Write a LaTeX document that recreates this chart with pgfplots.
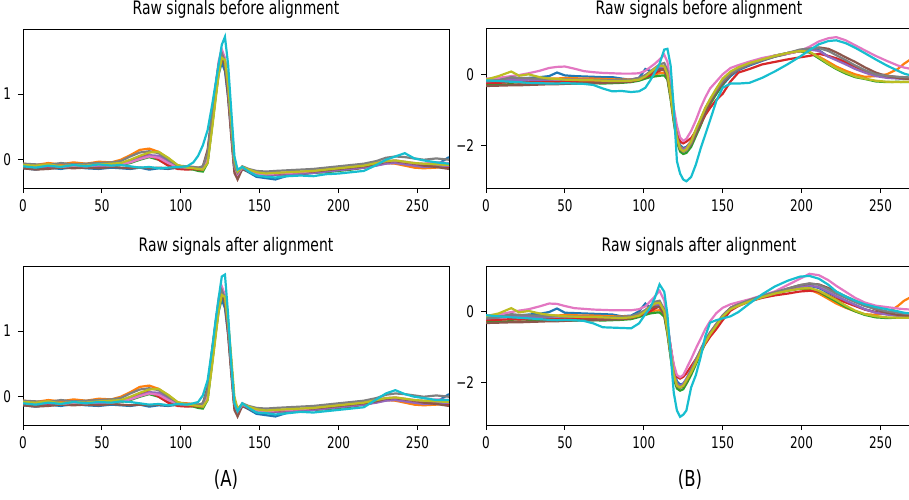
\documentclass[border=0pt]{standalone}
\usepackage{fontspec}
\setmainfont{DejaVu Sans}[FakeStretch=0.75]
\usepackage{pgfplots}
\usepackage{pgfplotstable}
\pgfplotsset{compat=1.18}

\definecolor{c0}{HTML}{1F77B4}
\definecolor{c1}{HTML}{FF7F0E}
\definecolor{c2}{HTML}{2CA02C}
\definecolor{c3}{HTML}{D62728}
\definecolor{c4}{HTML}{9467BD}
\definecolor{c5}{HTML}{8C564B}
\definecolor{c6}{HTML}{E377C2}
\definecolor{c7}{HTML}{7F7F7F}
\definecolor{c8}{HTML}{BCBD22}
\definecolor{c9}{HTML}{17BECF}

% panel A: c9a is the cyan beat after alignment
\pgfplotstableread{
x c0 c1 c2 c3 c4 c5 c6 c7 c8 c9 c9a
0 -0.13 -0.06 -0.10 -0.12 -0.09 -0.13 -0.08 -0.06 -0.08 -0.10 -0.10
8 -0.15 -0.08 -0.11 -0.10 -0.11 -0.15 -0.10 -0.07 -0.09 -0.12 -0.12
16 -0.12 -0.05 -0.09 -0.13 -0.10 -0.14 -0.08 -0.08 -0.07 -0.09 -0.09
24 -0.14 -0.07 -0.12 -0.11 -0.12 -0.12 -0.11 -0.05 -0.10 -0.11 -0.11
32 -0.11 -0.04 -0.10 -0.12 -0.09 -0.13 -0.09 -0.07 -0.08 -0.08 -0.08
40 -0.13 -0.06 -0.11 -0.10 -0.10 -0.12 -0.10 -0.06 -0.09 -0.10 -0.10
48 -0.14 -0.03 -0.09 -0.11 -0.11 -0.13 -0.08 -0.05 -0.07 -0.07 -0.08
56 -0.12 -0.04 -0.10 -0.09 -0.09 -0.11 -0.09 -0.04 -0.06 -0.09 -0.09
62 -0.13 0.00 -0.08 -0.07 -0.07 -0.12 -0.07 -0.02 -0.05 -0.08 -0.07
68 -0.14 0.07 -0.05 -0.02 -0.03 -0.13 -0.04 0.05 0.00 -0.10 -0.08
74 -0.12 0.15 0.00 0.05 0.02 -0.12 0.01 0.11 0.06 -0.12 -0.10
80 -0.15 0.17 0.04 0.08 0.07 -0.13 0.05 0.13 0.11 -0.11 -0.12
86 -0.13 0.12 0.00 0.00 0.06 -0.12 0.03 0.10 0.12 -0.13 -0.11
92 -0.14 0.02 -0.08 -0.09 -0.02 -0.13 -0.05 0.00 0.03 -0.12 -0.13
98 -0.12 -0.09 -0.12 -0.14 -0.10 -0.12 -0.11 -0.09 -0.08 -0.11 -0.11
104 -0.13 -0.10 -0.14 -0.15 -0.12 -0.13 -0.12 -0.11 -0.12 -0.10 -0.12
108 -0.12 -0.11 -0.15 -0.14 -0.12 -0.12 -0.12 -0.11 -0.13 -0.04 -0.10
111 -0.13 -0.12 -0.17 -0.15 -0.13 -0.13 -0.13 -0.12 -0.14 0.06 -0.08
114 -0.14 -0.13 -0.18 -0.15 -0.14 -0.10 -0.14 -0.10 -0.15 0.22 0.02
117 -0.02 0.10 -0.05 0.05 0.05 0.15 0.00 0.10 -0.05 0.45 0.25
120 0.55 0.70 0.55 0.70 0.65 0.75 0.65 0.70 0.50 0.85 0.75
122 0.95 1.05 0.95 1.10 1.05 1.10 1.10 1.10 0.90 1.15 1.15
124 1.30 1.38 1.35 1.45 1.40 1.42 1.50 1.45 1.30 1.45 1.50
126 1.48 1.55 1.55 1.62 1.60 1.58 1.68 1.62 1.55 1.75 1.83
128 1.35 1.45 1.45 1.50 1.50 1.42 1.55 1.50 1.52 1.87 1.86
130 0.95 1.05 1.05 1.05 1.10 0.95 1.10 1.10 1.15 1.45 1.25
132 0.40 0.45 0.50 0.45 0.50 0.35 0.50 0.50 0.60 0.75 0.50
134 -0.15 -0.12 -0.10 -0.15 -0.10 -0.20 -0.10 -0.10 0.00 0.05 -0.10
136 -0.25 -0.22 -0.24 -0.26 -0.22 -0.30 -0.22 -0.20 -0.18 -0.15 -0.22
139 -0.14 -0.11 -0.13 -0.13 -0.12 -0.14 -0.12 -0.10 -0.11 -0.11 -0.10
143 -0.19 -0.15 -0.17 -0.18 -0.17 -0.18 -0.16 -0.14 -0.15 -0.18 -0.17
148 -0.26 -0.20 -0.22 -0.23 -0.22 -0.22 -0.21 -0.17 -0.19 -0.24 -0.24
154 -0.28 -0.22 -0.23 -0.24 -0.24 -0.21 -0.22 -0.18 -0.21 -0.26 -0.25
160 -0.30 -0.21 -0.22 -0.23 -0.23 -0.22 -0.21 -0.17 -0.20 -0.27 -0.27
168 -0.24 -0.22 -0.23 -0.21 -0.22 -0.20 -0.20 -0.16 -0.19 -0.25 -0.25
176 -0.22 -0.20 -0.21 -0.22 -0.21 -0.19 -0.19 -0.15 -0.18 -0.24 -0.23
184 -0.20 -0.19 -0.20 -0.19 -0.20 -0.18 -0.17 -0.14 -0.17 -0.25 -0.24
192 -0.17 -0.18 -0.19 -0.17 -0.18 -0.16 -0.14 -0.12 -0.15 -0.22 -0.22
200 -0.15 -0.15 -0.17 -0.15 -0.16 -0.14 -0.12 -0.10 -0.13 -0.21 -0.20
208 -0.12 -0.13 -0.15 -0.14 -0.14 -0.12 -0.10 -0.08 -0.11 -0.19 -0.18
216 -0.10 -0.11 -0.12 -0.12 -0.12 -0.10 -0.08 -0.06 -0.09 -0.17 -0.16
224 -0.05 -0.08 -0.08 -0.08 -0.09 -0.07 -0.04 -0.02 -0.05 -0.08 -0.04
230 -0.03 -0.05 -0.04 -0.05 -0.06 -0.03 -0.02 0.03 -0.02 0.00 0.05
236 -0.04 -0.06 -0.03 -0.04 -0.05 -0.02 -0.01 0.05 -0.01 0.05 0.10
242 -0.06 -0.09 -0.05 -0.06 -0.07 -0.04 -0.03 0.04 -0.03 0.10 0.04
248 -0.09 -0.12 -0.07 -0.08 -0.09 -0.06 -0.05 0.02 -0.05 0.02 0.00
254 -0.11 -0.13 -0.09 -0.09 -0.11 -0.09 -0.06 0.00 -0.06 -0.01 -0.02
262 -0.08 -0.12 -0.10 -0.10 -0.10 -0.11 -0.04 0.02 -0.07 -0.04 -0.05
270 0.04 -0.10 -0.09 -0.12 -0.09 -0.14 -0.05 0.00 -0.08 -0.06 -0.05
}\tA

% panel B, before alignment
\pgfplotstableread{
x c0 c1 c2 c3 c4 c5 c6 c7 c8 c9
0 -0.15 -0.18 -0.30 -0.25 -0.20 -0.33 -0.12 -0.20 -0.15 -0.17
8 -0.14 -0.17 -0.29 -0.24 -0.18 -0.32 -0.10 -0.17 -0.05 -0.19
16 -0.10 -0.15 -0.28 -0.22 -0.15 -0.31 -0.05 -0.08 0.08 -0.21
21 -0.12 -0.16 -0.29 -0.23 -0.16 -0.31 -0.02 -0.10 -0.04 -0.22
27 -0.10 -0.14 -0.28 -0.22 -0.15 -0.30 0.03 -0.11 0.00 -0.24
34 -0.08 -0.13 -0.27 -0.21 -0.16 -0.29 0.10 -0.13 -0.08 -0.25
40 -0.05 -0.12 -0.27 -0.20 -0.15 -0.28 0.18 -0.14 -0.12 -0.26
45 0.05 -0.12 -0.26 -0.21 -0.15 -0.28 0.21 -0.14 -0.13 -0.26
50 -0.03 -0.10 -0.27 -0.20 -0.14 -0.27 0.22 -0.15 -0.15 -0.25
56 -0.05 -0.11 -0.26 -0.21 -0.15 -0.26 0.16 -0.15 -0.16 -0.26
62 -0.06 -0.12 -0.25 -0.20 -0.15 -0.25 0.09 -0.16 -0.17 -0.27
68 -0.07 -0.12 -0.25 -0.22 -0.16 -0.25 0.06 -0.16 -0.17 -0.30
74 -0.08 -0.13 -0.26 -0.20 -0.16 -0.24 0.04 -0.17 -0.18 -0.40
80 -0.08 -0.14 -0.25 -0.21 -0.17 -0.23 0.03 -0.17 -0.19 -0.48
86 -0.12 -0.15 -0.24 -0.22 -0.17 -0.22 0.02 -0.17 -0.19 -0.47
92 -0.16 -0.14 -0.22 -0.20 -0.15 -0.20 0.02 -0.15 -0.18 -0.50
97 -0.10 -0.12 -0.18 -0.15 -0.10 -0.14 0.03 -0.10 -0.15 -0.48
101 0.15 -0.08 -0.12 -0.08 -0.03 -0.05 0.10 -0.02 -0.06 -0.38
104 0.10 -0.03 -0.08 -0.02 0.05 0.03 0.20 0.08 0.05 -0.18
107 0.08 0.00 -0.06 0.03 0.12 0.10 0.30 0.18 0.16 0.05
110 0.15 0.03 -0.04 0.10 0.20 0.14 0.42 0.28 0.25 0.30
113 0.15 0.05 -0.03 0.15 0.22 0.12 0.55 0.32 0.22 0.70
115 -0.05 -0.10 -0.15 0.00 0.00 -0.10 0.35 0.10 0.00 0.72
117 -0.50 -0.60 -0.70 -0.45 -0.55 -0.65 -0.30 -0.50 -0.60 0.25
119 -1.10 -1.20 -1.35 -1.05 -1.20 -1.30 -0.95 -1.15 -1.25 -0.95
121 -1.70 -1.80 -1.90 -1.60 -1.80 -1.85 -1.45 -1.75 -1.80 -2.45
123 -2.00 -2.05 -2.18 -1.90 -2.08 -2.12 -1.78 -2.08 -2.10 -2.80
125 -2.08 -2.12 -2.25 -1.95 -2.12 -2.18 -1.88 -2.18 -2.17 -2.97
127 -2.05 -2.08 -2.22 -1.90 -2.08 -2.15 -1.82 -2.15 -2.12 -3.02
130 -1.90 -1.90 -2.05 -1.80 -1.90 -1.98 -1.60 -1.95 -1.90 -2.90
133 -1.65 -1.60 -1.75 -1.60 -1.60 -1.70 -1.30 -1.60 -1.55 -2.55
136 -1.35 -1.30 -1.45 -1.40 -1.30 -1.40 -0.95 -1.28 -1.25 -2.10
139 -1.05 -1.00 -1.12 -1.15 -1.00 -1.10 -0.65 -0.95 -0.95 -1.70
142 -0.80 -0.75 -0.85 -0.95 -0.75 -0.80 -0.40 -0.72 -0.70 -1.30
146 -0.55 -0.50 -0.55 -0.72 -0.48 -0.50 -0.20 -0.45 -0.40 -0.75
150 -0.30 -0.25 -0.28 -0.55 -0.25 -0.25 0.00 -0.20 -0.12 -0.38
155 -0.05 0.00 0.00 -0.20 0.00 0.00 0.18 0.02 0.08 -0.26
160 0.12 0.15 0.18 0.05 0.15 0.15 0.26 0.15 0.20 -0.26
167 0.25 0.30 0.30 0.15 0.28 0.28 0.36 0.28 0.32 -0.24
175 0.38 0.42 0.42 0.28 0.40 0.40 0.46 0.40 0.42 -0.10
183 0.50 0.52 0.53 0.35 0.52 0.50 0.53 0.50 0.52 0.08
191 0.58 0.60 0.60 0.42 0.60 0.58 0.58 0.60 0.60 0.28
199 0.68 0.65 0.65 0.48 0.68 0.66 0.66 0.70 0.66 0.50
205 0.72 0.62 0.62 0.52 0.70 0.72 0.78 0.73 0.64 0.68
211 0.68 0.50 0.45 0.58 0.66 0.76 0.93 0.74 0.48 0.85
217 0.50 0.35 0.28 0.52 0.50 0.72 1.02 0.66 0.30 0.94
222 0.45 0.22 0.15 0.45 0.40 0.62 1.05 0.54 0.17 0.96
228 0.32 0.10 0.02 0.35 0.28 0.48 0.96 0.40 0.05 0.88
234 0.22 0.00 -0.08 0.22 0.15 0.35 0.82 0.25 -0.06 0.75
240 0.10 -0.07 -0.13 0.08 0.05 0.20 0.68 0.12 -0.12 0.60
247 0.00 -0.05 -0.20 0.00 -0.05 0.05 0.52 0.00 -0.18 0.42
254 -0.06 0.00 -0.22 -0.05 -0.10 -0.05 0.38 -0.04 -0.21 0.25
261 -0.10 0.15 -0.21 -0.08 -0.12 -0.10 0.25 -0.07 -0.22 0.10
265 -0.12 0.30 -0.22 -0.10 -0.13 -0.12 0.19 -0.08 -0.21 0.02
270 -0.13 0.45 -0.22 -0.10 -0.14 -0.14 0.15 -0.09 -0.21 -0.04
}\tBb

% panel B, after alignment
\pgfplotstableread{
x c0 c1 c2 c3 c4 c5 c6 c7 c8 c9
0 -0.15 -0.18 -0.30 -0.25 -0.20 -0.33 -0.12 -0.20 -0.14 -0.11
8 -0.13 -0.17 -0.29 -0.24 -0.18 -0.32 -0.09 -0.17 -0.06 -0.14
16 -0.11 -0.15 -0.28 -0.22 -0.15 -0.31 -0.02 -0.08 0.09 -0.17
21 -0.12 -0.16 -0.29 -0.23 -0.16 -0.31 0.02 -0.10 -0.03 -0.18
27 -0.09 -0.14 -0.28 -0.22 -0.15 -0.30 0.06 -0.11 0.01 -0.20
34 -0.07 -0.13 -0.27 -0.21 -0.16 -0.29 0.14 -0.13 -0.06 -0.22
40 -0.02 -0.12 -0.27 -0.20 -0.15 -0.28 0.22 -0.14 -0.10 -0.24
45 0.08 -0.12 -0.26 -0.21 -0.15 -0.28 0.21 -0.14 -0.12 -0.25
50 -0.04 -0.10 -0.27 -0.20 -0.14 -0.27 0.15 -0.15 -0.14 -0.24
56 -0.05 -0.11 -0.26 -0.21 -0.15 -0.26 0.09 -0.15 -0.15 -0.25
62 -0.06 -0.12 -0.25 -0.20 -0.15 -0.25 0.07 -0.16 -0.16 -0.27
68 -0.07 -0.12 -0.25 -0.22 -0.16 -0.25 0.05 -0.16 -0.16 -0.34
74 -0.08 -0.13 -0.26 -0.20 -0.16 -0.24 0.04 -0.17 -0.17 -0.45
80 -0.09 -0.14 -0.25 -0.21 -0.17 -0.23 0.03 -0.17 -0.18 -0.46
86 -0.14 -0.15 -0.24 -0.22 -0.17 -0.22 0.03 -0.17 -0.19 -0.47
92 -0.12 -0.14 -0.22 -0.19 -0.14 -0.18 0.03 -0.14 -0.17 -0.48
97 0.00 -0.11 -0.16 -0.12 -0.07 -0.10 0.06 -0.06 -0.12 -0.34
101 0.22 -0.06 -0.10 -0.06 -0.02 0.00 0.14 0.04 0.00 -0.08
104 0.10 -0.02 -0.06 0.00 0.08 0.08 0.28 0.15 0.12 0.10
107 0.12 0.02 -0.04 0.08 0.18 0.13 0.42 0.27 0.22 0.38
110 0.16 0.03 -0.03 0.14 0.20 0.12 0.58 0.30 0.24 0.76
113 0.02 -0.10 -0.15 0.00 0.00 -0.10 0.30 0.05 0.00 0.55
115 -0.40 -0.55 -0.65 -0.40 -0.50 -0.60 -0.35 -0.50 -0.55 -0.10
117 -1.00 -1.15 -1.30 -1.00 -1.15 -1.25 -1.00 -1.15 -1.20 -1.20
119 -1.60 -1.75 -1.90 -1.55 -1.75 -1.85 -1.50 -1.78 -1.80 -2.30
121 -1.98 -2.05 -2.18 -1.85 -2.05 -2.12 -1.80 -2.08 -2.10 -2.80
123 -2.07 -2.12 -2.24 -1.90 -2.10 -2.16 -1.86 -2.15 -2.15 -2.98
125 -2.04 -2.08 -2.20 -1.85 -2.05 -2.12 -1.80 -2.10 -2.10 -2.92
127 -1.92 -1.95 -2.05 -1.75 -1.90 -1.98 -1.62 -1.95 -1.95 -2.80
130 -1.72 -1.70 -1.80 -1.55 -1.65 -1.72 -1.35 -1.65 -1.72 -2.15
133 -1.45 -1.40 -1.50 -1.35 -1.38 -1.42 -1.05 -1.38 -1.45 -1.80
136 -1.15 -1.10 -1.20 -1.12 -1.08 -1.12 -0.78 -1.10 -1.15 -1.30
139 -0.85 -0.82 -0.90 -0.92 -0.80 -0.85 -0.50 -0.82 -0.88 -0.70
142 -0.62 -0.60 -0.68 -0.72 -0.60 -0.62 -0.28 -0.62 -0.65 -0.32
146 -0.38 -0.35 -0.42 -0.50 -0.36 -0.38 -0.05 -0.36 -0.40 -0.25
150 -0.16 -0.12 -0.18 -0.25 -0.12 -0.14 0.10 -0.12 -0.15 -0.20
155 0.08 0.10 0.06 0.02 0.10 0.08 0.20 0.10 0.06 -0.14
160 0.20 0.22 0.18 0.15 0.20 0.18 0.26 0.20 0.16 -0.02
167 0.30 0.32 0.30 0.28 0.30 0.28 0.34 0.32 0.28 0.22
175 0.40 0.42 0.40 0.38 0.40 0.40 0.45 0.44 0.40 0.48
183 0.52 0.52 0.50 0.45 0.52 0.52 0.56 0.54 0.50 0.70
191 0.62 0.60 0.58 0.50 0.62 0.64 0.74 0.64 0.58 0.86
199 0.70 0.64 0.64 0.56 0.70 0.74 0.92 0.74 0.64 0.98
205 0.72 0.62 0.65 0.58 0.73 0.78 1.06 0.79 0.66 1.00
211 0.66 0.50 0.55 0.56 0.68 0.76 1.02 0.75 0.58 0.92
217 0.52 0.35 0.40 0.45 0.55 0.66 0.88 0.62 0.44 0.75
222 0.42 0.22 0.28 0.35 0.43 0.55 0.72 0.50 0.32 0.56
228 0.30 0.10 0.12 0.25 0.30 0.42 0.55 0.38 0.16 0.42
234 0.18 0.00 0.00 0.15 0.18 0.30 0.38 0.26 0.02 0.30
240 0.06 -0.08 -0.10 0.05 0.06 0.18 0.25 0.15 -0.08 0.20
247 -0.02 -0.10 -0.17 -0.03 -0.04 0.05 0.16 0.07 -0.14 0.12
254 -0.07 -0.06 -0.19 -0.08 -0.09 -0.04 0.12 0.00 -0.17 0.06
261 -0.10 0.15 -0.18 -0.12 -0.12 -0.10 0.08 -0.04 -0.18 0.00
265 -0.12 0.30 -0.18 -0.12 -0.13 -0.12 0.06 -0.06 -0.18 -0.04
270 -0.13 0.42 -0.17 -0.12 -0.14 -0.14 0.05 -0.07 -0.18 -0.06
}\tBa

\pgfplotsset{
  sig/.style={
    scale only axis, width=213pt, height=79.5pt,
    anchor=south west,
    xmin=0, xmax=270, xtick={0,50,...,250},
    tick align=outside, tick pos=left,
    major tick length=2.5pt,
    tick style={black, line width=0.4pt},
    axis line style={line width=0.5pt},
    /pgf/number format/assume math mode=true,
    tick label style={font=\fontsize{8}{9}\selectfont, text=black},
    title style={font=\fontsize{9.3}{11}\selectfont, anchor=center,
      at={(0.5,1)}, yshift=4pt},
    every axis plot/.append style={line width=1.1pt},
  },
  sigA/.style={sig, ymin=-0.43, ymax=1.99, ytick={0,1}},
  sigB/.style={sig, ymin=-3.21, ymax=1.28, ytick={-2,0}, yticklabels={−2,0}},
}

% ten beats, the last (cyan) column given separately
\newcommand{\beats}[2]{%
  \addplot[c0] table[x=x,y=c0]{#1};
  \addplot[c1] table[x=x,y=c1]{#1};
  \addplot[c2] table[x=x,y=c2]{#1};
  \addplot[c3] table[x=x,y=c3]{#1};
  \addplot[c4] table[x=x,y=c4]{#1};
  \addplot[c5] table[x=x,y=c5]{#1};
  \addplot[c6] table[x=x,y=c6]{#1};
  \addplot[c7] table[x=x,y=c7]{#1};
  \addplot[c8] table[x=x,y=c8]{#1};
  \addplot[c9] table[x=x,y=#2]{#1};
}

\begin{document}
\begin{tikzpicture}
\begin{axis}[sigA, at={(11.5pt,155.5pt)}, title={Raw signals before alignment}]
\beats{\tA}{c9}
\end{axis}
\begin{axis}[sigA, at={(11.5pt,37pt)}, title={Raw signals after alignment}]
\beats{\tA}{c9a}
\end{axis}
\begin{axis}[sigB, at={(243pt,155.5pt)}, title={Raw signals before alignment}]
\beats{\tBb}{c9}
\end{axis}
\begin{axis}[sigB, at={(243pt,37pt)}, title={Raw signals after alignment}]
\beats{\tBa}{c9}
\end{axis}
\node[font=\fontsize{11}{13}\selectfont] at (113pt,9.5pt) {(A)};
\node[font=\fontsize{11}{13}\selectfont] at (345pt,9.5pt) {(B)};
\pgfresetboundingbox
\path[use as bounding box] (0,0) rectangle (454.5pt,249.5pt);
\end{tikzpicture}
\end{document}
